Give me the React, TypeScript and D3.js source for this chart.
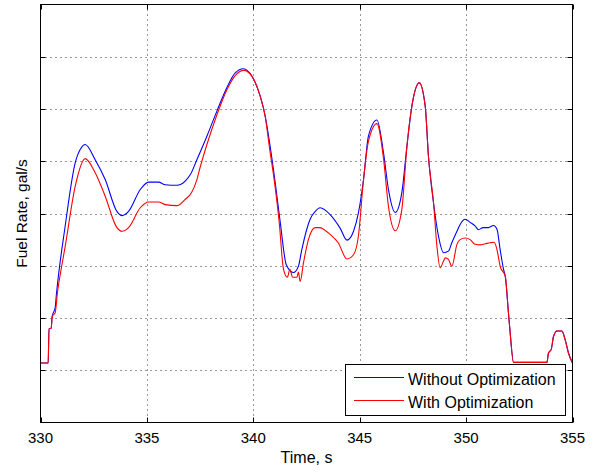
import * as d3 from "d3";

const WIDTH = 597;
const HEIGHT = 474;
const PLOT = { left: 40.5, right: 572.5, top: 4.5, bottom: 422.5 };

const X_TICKS = [330, 335, 340, 345, 350, 355];
// the y axis carries tick marks and grid lines but no labels
const Y_TICKS = [1, 2, 3, 4, 5, 6, 7];

const SERIES_NAMES = ["Without Optimization", "With Optimization"];
const SERIES_COLORS = ["#0000ff", "#ff0000"];

// fuel rate without optimization (values in grid units)
const timeWithout = [
  330, 330.36, 330.4, 330.5, 330.55, 330.69, 330.74, 331.16, 331.63, 331.9, 332.1, 332.57,
  333.04, 333.59, 333.83, 334.14, 334.69, 335.08, 335.55, 335.86, 336.41, 336.8, 337.05, 337.35,
  337.82, 338.29, 338.76, 339.15, 339.54, 339.93, 340.32, 340.56, 340.79, 341.03, 341.27, 341.55,
  341.89, 342.12, 342.28, 342.67, 342.91, 343.14, 343.61, 344.08, 344.4, 344.71, 344.94, 345.18,
  345.41, 345.81, 346.12, 346.35, 346.67, 346.98, 347.22, 347.45, 347.8, 348.08, 348.23, 348.47,
  348.7, 348.94, 349.17, 349.33, 349.57, 349.72, 349.96, 350.19, 350.43, 350.58, 350.8, 351.05,
  351.29, 351.45, 351.6, 351.76, 351.84, 351.99, 352.07, 352.23, 353.8, 353.87, 354.0, 354.11,
  354.27, 354.5, 354.65, 354.81, 355,
];
const fuelWithout = [
  1.14, 1.14, 1.8, 1.8, 2.03, 2.2, 2.42, 3.76, 4.97, 5.25, 5.32, 5.03,
  4.65, 4.04, 3.96, 4.04, 4.46, 4.6, 4.6, 4.55, 4.54, 4.62, 4.75, 5.03,
  5.48, 5.96, 6.41, 6.69, 6.77, 6.63, 6.25, 5.86, 5.29, 4.59, 3.82, 3.02,
  2.87, 2.99, 3.31, 3.89, 4.04, 4.11, 3.98, 3.72, 3.49, 3.66, 4.01, 4.65,
  5.48, 5.79, 5.16, 4.46, 4.02, 4.4, 5.29, 6.05, 6.5, 6.05, 5.1, 4.2,
  3.57, 3.25, 3.28, 3.44, 3.66, 3.79, 3.89, 3.83, 3.76, 3.69, 3.73, 3.73,
  3.77, 3.7, 3.31, 2.93, 2.8, 2.1, 1.72, 1.15, 1.15, 1.33, 1.4, 1.65,
  1.75, 1.75, 1.59, 1.33, 1.14,
];

// fuel rate with optimization
const timeWith = [
  330, 330.36, 330.4, 330.5, 330.55, 330.69, 330.8, 331.0, 331.16, 331.63, 332.1, 332.57,
  333.04, 333.59, 333.83, 334.14, 334.69, 335.08, 335.55, 335.86, 336.41, 336.8, 337.1, 337.35,
  337.5, 337.82, 338.29, 338.76, 339.15, 339.56, 339.93, 340.32, 340.56, 340.75, 341.0, 341.22,
  341.42, 341.6, 341.72, 341.85, 342.05, 342.12, 342.2, 342.36, 342.59, 342.91, 343.1, 343.61,
  343.99, 344.4, 344.71, 344.94, 345.18, 345.41, 345.81, 346.12, 346.35, 346.67, 346.98, 347.22,
  347.45, 347.8, 348.08, 348.23, 348.47, 348.63, 348.78, 348.94, 349.02, 349.17, 349.33, 349.57,
  349.72, 349.96, 350.19, 350.43, 350.66, 350.9, 351.13, 351.32, 351.45, 351.6, 351.84, 351.99,
  352.07, 352.23, 353.8, 353.87, 354.0, 354.11, 354.27, 354.5, 354.65, 354.81, 355,
];
const fuelWith = [
  1.14, 1.14, 1.8, 1.8, 2.03, 2.1, 2.5, 3.0, 3.37, 4.52, 5.05, 4.78,
  4.33, 3.73, 3.66, 3.73, 4.11, 4.22, 4.22, 4.17, 4.15, 4.27, 4.4, 4.65,
  4.88, 5.32, 5.89, 6.37, 6.64, 6.74, 6.63, 6.25, 5.86, 5.29, 4.59, 3.82,
  2.93, 2.78, 2.93, 2.78, 2.78, 2.88, 2.7, 3.06, 3.5, 3.73, 3.73, 3.6,
  3.44, 3.13, 3.21, 3.57, 4.65, 5.38, 5.72, 5.05, 4.14, 3.67, 4.08, 5.29,
  6.05, 6.5, 6.05, 5.1, 4.2, 3.37, 2.96, 3.09, 3.15, 3.12, 2.99, 3.41,
  3.5, 3.53, 3.5, 3.41, 3.4, 3.42, 3.44, 3.45, 3.31, 2.99, 2.8, 2.1,
  1.72, 1.15, 1.15, 1.33, 1.4, 1.65, 1.75, 1.75, 1.59, 1.33, 1.14,
];

const FONT = "'Liberation Sans', Arial, Helvetica, sans-serif";

export default function App() {
  const x = d3.scaleLinear().domain([330, 355]).range([PLOT.left, PLOT.right]);
  const y = d3.scaleLinear().domain([0, 8]).range([PLOT.bottom, PLOT.top]);

  const series = [
    timeWithout.map((t, i) => [t, fuelWithout[i]] as [number, number]),
    timeWith.map((t, i) => [t, fuelWith[i]] as [number, number]),
  ];
  const line = d3
    .line<[number, number]>()
    .curve(d3.curveMonotoneX)
    .x((d) => x(d[0]))
    .y((d) => y(d[1]));

  const tickLen = 5;
  const legend = { x: 345.5, y: 364.5, w: 220, h: 51 };

  return (
    <svg
      width={WIDTH}
      height={HEIGHT}
      style={{ position: "absolute", left: 0, top: 0, background: "#fff" }}
      fontFamily={FONT}
    >
      <defs>
        <clipPath id="plot-clip">
          <rect x={PLOT.left} y={PLOT.top} width={PLOT.right - PLOT.left} height={PLOT.bottom - PLOT.top} />
        </clipPath>
      </defs>
      <rect x={PLOT.left} y={PLOT.top} width={PLOT.right - PLOT.left} height={PLOT.bottom - PLOT.top} fill="#fff" />

      {/* dotted grid */}
      <g stroke="#333" strokeWidth={1} strokeDasharray="1 4">
        {X_TICKS.slice(1, -1).map((t) => (
          <line key={`gx${t}`} x1={Math.round(x(t)) + 0.5} x2={Math.round(x(t)) + 0.5} y1={PLOT.top} y2={PLOT.bottom} />
        ))}
        {Y_TICKS.map((v) => (
          <line key={`gy${v}`} x1={PLOT.left} x2={PLOT.right} y1={Math.round(y(v)) + 0.5} y2={Math.round(y(v)) + 0.5} />
        ))}
      </g>

      {/* data */}
      <g clipPath="url(#plot-clip)" fill="none" strokeWidth={1.1}>
        {series.map((s, i) => (
          <path key={SERIES_NAMES[i]} d={line(s) ?? ""} stroke={SERIES_COLORS[i]} />
        ))}
      </g>

      {/* axes box and inward ticks */}
      <g stroke="#000" strokeWidth={1}>
        <rect x={PLOT.left} y={PLOT.top} width={PLOT.right - PLOT.left} height={PLOT.bottom - PLOT.top} fill="none" />
        {X_TICKS.map((t) => {
          const px = Math.round(x(t)) + 0.5;
          return (
            <g key={`tx${t}`}>
              <line x1={px} x2={px} y1={PLOT.bottom} y2={PLOT.bottom - tickLen} />
              <line x1={px} x2={px} y1={PLOT.top} y2={PLOT.top + tickLen} />
            </g>
          );
        })}
        {Y_TICKS.map((v) => {
          const py = Math.round(y(v)) + 0.5;
          return (
            <g key={`ty${v}`}>
              <line x1={PLOT.left} x2={PLOT.left + tickLen} y1={py} y2={py} />
              <line x1={PLOT.right} x2={PLOT.right - tickLen} y1={py} y2={py} />
            </g>
          );
        })}
      </g>

      {/* tick labels */}
      <g fontSize={15} fill="#000" textAnchor="middle">
        {X_TICKS.map((t) => (
          <text key={`lx${t}`} x={x(t)} y={442.5}>
            {t}
          </text>
        ))}
      </g>

      <text x={(PLOT.left + PLOT.right) / 2} y={463} fontSize={16} textAnchor="middle" fill="#000">
        Time, s
      </text>
      <text
        transform={`translate(26.5, ${(PLOT.top + PLOT.bottom) / 2}) rotate(-90)`}
        fontSize={15.5}
        textAnchor="middle"
        fill="#000"
      >
        Fuel Rate, gal/s
      </text>

      {/* legend */}
      <g>
        <rect x={legend.x} y={legend.y} width={legend.w} height={legend.h} fill="#fff" stroke="#000" strokeWidth={1} />
        {SERIES_NAMES.map((name, i) => {
          const ly = legend.y + 13 + i * 23;
          return (
            <g key={`lg${name}`}>
              <line x1={354} x2={404} y1={ly} y2={ly} stroke={SERIES_COLORS[i]} strokeWidth={1.2} />
              <text x={408} y={ly + 7.5} fontSize={16} fill="#000">
                {name}
              </text>
            </g>
          );
        })}
      </g>
    </svg>
  );
}
